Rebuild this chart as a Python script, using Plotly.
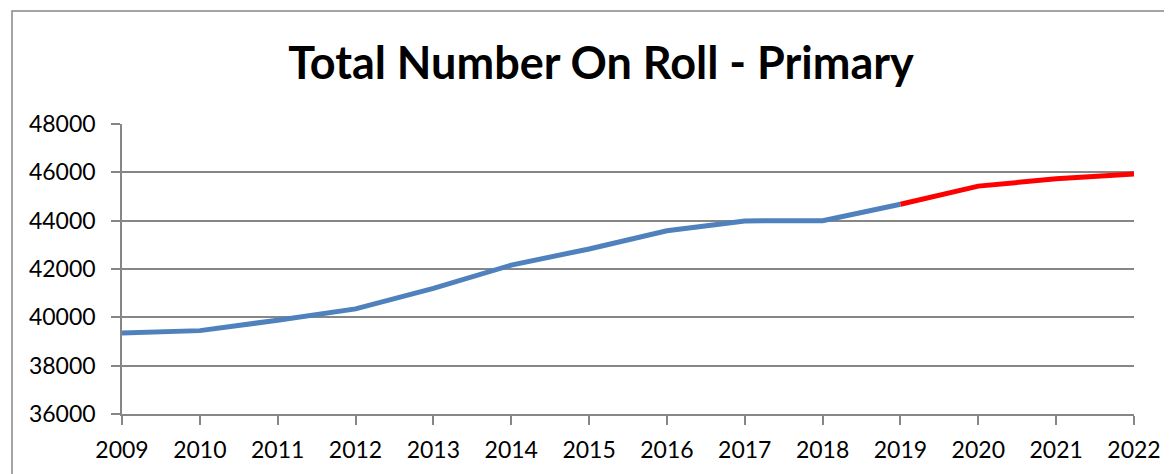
import plotly.graph_objects as go

years_actual = [2009, 2010, 2011, 2012, 2013, 2014, 2015, 2016, 2017, 2018, 2019]
roll_actual = [39350, 39450, 39880, 40350, 41200, 42160, 42830, 43580, 43990, 44000, 44680]
years_forecast = [2019, 2020, 2021, 2022]
roll_forecast = [44680, 45430, 45730, 45930]

title_text = "Total Number On Roll - Primary"
FONT = "Lato, 'Open Sans', sans-serif"

# page body has an 8px margin; figure coordinates are offset accordingly
OFF = 8
W, H = 1172, 474
L, R, T, B = 122 - OFF, 46, 124 - OFF, 68
pw, ph = W - L - R, H - T - B

def px(x):
    return (x - OFF - L) / pw

def py(y):
    return (H - B - (y - OFF)) / ph

fig = go.Figure()
fig.add_trace(go.Scatter(x=years_actual, y=roll_actual, mode="lines",
                         line=dict(color="#4F81BD", width=5), showlegend=False))
fig.add_trace(go.Scatter(x=years_forecast, y=roll_forecast, mode="lines",
                         line=dict(color="#FF0000", width=5), showlegend=False))

fig.add_shape(type="rect", xref="paper", yref="paper",
              x0=px(12), x1=px(1200), y0=py(500), y1=py(11),
              line=dict(color="#868686", width=1.5), fillcolor="rgba(0,0,0,0)", layer="below")

fig.update_layout(
    width=W, height=H,
    margin=dict(l=L, r=R, t=T, b=B),
    paper_bgcolor="white", plot_bgcolor="white",
    font=dict(family=FONT, color="black", size=23),
    title=dict(text="<b>" + title_text + "</b>", x=(601 - OFF) / W, xanchor="center",
               y=1 - (63 - OFF) / H, yanchor="middle", font=dict(size=45, family=FONT, color="black")),
)
fig.update_xaxes(range=[2009, 2022], tickmode="linear", tick0=2009, dtick=1,
                 showgrid=False, showline=True, linecolor="#868686", linewidth=1.5,
                 ticks="outside", ticklen=9, tickcolor="#868686", tickwidth=1.5,
                 tickfont=dict(size=23), zeroline=False, ticklabelstandoff=6)
fig.update_yaxes(range=[36000, 48000], tickmode="linear", tick0=36000, dtick=2000,
                 tickformat="d", showgrid=True, gridcolor="#868686", gridwidth=1.5,
                 showline=True, linecolor="#868686", linewidth=1.5,
                 ticks="outside", ticklen=9, tickcolor="#868686", tickwidth=1.5,
                 tickfont=dict(size=23), zeroline=False, ticklabelstandoff=11)

fig.write_html("out.html")
